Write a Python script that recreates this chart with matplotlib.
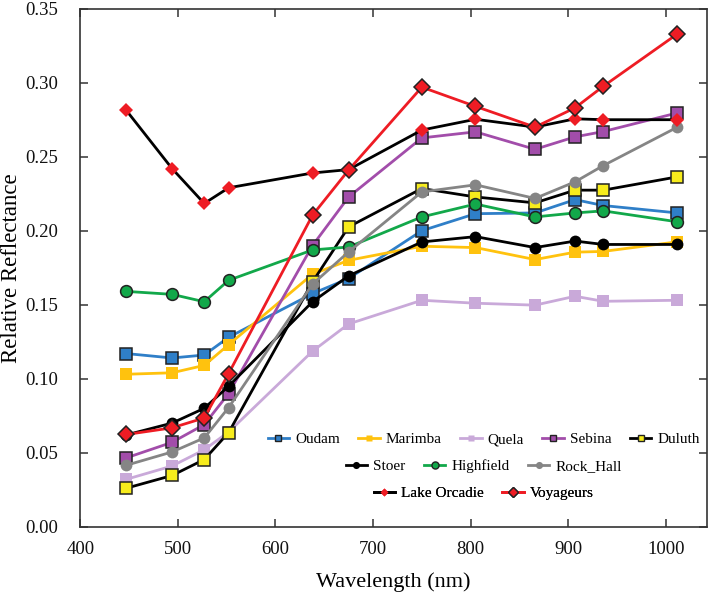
import matplotlib
matplotlib.use("Agg")
import matplotlib.pyplot as plt
from matplotlib.lines import Line2D

plt.rcParams['font.family'] = ['Liberation Serif', 'DejaVu Serif']

wavelength = [447, 494, 527, 552, 638, 675, 750, 805, 866, 907, 936, 1012]

oudam      = [0.117, 0.114, 0.116, 0.128, 0.1575, 0.1677, 0.200, 0.2115, 0.212, 0.221, 0.217, 0.212]
marimba    = [0.103, 0.104, 0.109, 0.123, 0.1706, 0.180, 0.1895, 0.1886, 0.1805, 0.1855, 0.186, 0.1925]
quela      = [0.032, 0.041, 0.052, 0.064, 0.1186, 0.137, 0.153, 0.151, 0.1497, 0.1557, 0.1523, 0.153]
sebina     = [0.0465, 0.057, 0.069, 0.090, 0.190, 0.2228, 0.2627, 0.2668, 0.255, 0.2634, 0.267, 0.2796]
duluth     = [0.026, 0.0346, 0.0454, 0.0636, 0.1654, 0.2026, 0.2285, 0.2228, 0.2188, 0.2274, 0.2274, 0.2364]
stoer      = [0.062, 0.070, 0.080, 0.095, 0.152, 0.1695, 0.1924, 0.196, 0.1886, 0.193, 0.1907, 0.1907]
highfield  = [0.159, 0.157, 0.152, 0.1665, 0.187, 0.189, 0.2093, 0.218, 0.2093, 0.212, 0.2134, 0.206]
rock_hall  = [0.0415, 0.0505, 0.060, 0.0805, 0.1639, 0.1857, 0.2262, 0.231, 0.2218, 0.233, 0.244, 0.270]
lake_orcadie = [0.2814, 0.242, 0.2184, 0.229, 0.239, 0.2413, 0.268, 0.2753, 0.270, 0.2756, 0.275, 0.275]
voyageurs  = [0.0623, 0.0668, 0.0735, 0.1035, 0.2105, 0.241, 0.297, 0.284, 0.270, 0.283, 0.2976, 0.333]

names = ["Oudam", "Marimba", "Quela", "Sebina", "Duluth",
         "Stoer", "Highfield", "Rock_Hall", "Lake Orcadie", "Voyageurs"]
series = [oudam, marimba, quela, sebina, duluth, stoer, highfield, rock_hall,
          lake_orcadie, voyageurs]

# style: line color, marker, face color, edge color, marker size
styles = {
    "Oudam":        ("#2F7FC8", "s", "#2F7FC8", "#222222", 8),
    "Marimba":      ("#FFC20E", "s", "#FFC20E", "none", 8),
    "Quela":        ("#C9A9D9", "s", "#C9A9D9", "none", 8),
    "Sebina":       ("#A24DAA", "s", "#A24DAA", "#222222", 8),
    "Duluth":       ("#000000", "s", "#F7EC1C", "#222222", 8),
    "Stoer":        ("#000000", "o", "#000000", "none", 8.5),
    "Highfield":    ("#12A84A", "o", "#12A84A", "#222222", 8.5),
    "Rock_Hall":    ("#858585", "o", "#858585", "none", 8.5),
    "Lake Orcadie": ("#000000", "D", "#EE1C24", "none", 7),
    "Voyageurs":    ("#EE1C24", "D", "#EE1C24", "#222222", 7.8),
}

fig = plt.figure(figsize=(7.09, 5.92), dpi=100)
ax = fig.add_axes([0.1133, 0.1103, 0.8835, 0.875])

for name, vals in zip(names, series):
    lc, mk, fc, ec, ms = styles[name]
    ax.plot(wavelength, vals, color=lc, lw=2.0, marker=mk, markersize=ms,
            markerfacecolor=fc, markeredgecolor=ec, markeredgewidth=1.1,
            label=name)

ax.set_xlim(400, 1042)
ax.set_ylim(0, 0.35)
ax.set_xticks([400, 500, 600, 700, 800, 900, 1000])
yt = [0.00, 0.05, 0.10, 0.15, 0.20, 0.25, 0.30, 0.35]
ax.set_yticks(yt)
ax.set_yticklabels([f"{v:.2f}" for v in yt])
ax.tick_params(axis='x', direction='in', length=6, width=1.1, top=True,
               labelsize=13.5, colors='#333333', labelcolor='#111111', pad=10.5)
ax.tick_params(axis='y', direction='in', length=6, width=1.1, right=True,
               labelsize=13.5, colors='#333333', labelcolor='#111111', pad=16)
for sp in ax.spines.values():
    sp.set_linewidth(1.2)
    sp.set_color('#333333')

ax.set_xlabel("Wavelength (nm)", fontsize=16, labelpad=10)
ax.set_ylabel("Relative Reflectance", fontsize=16.5)
ax.yaxis.set_label_coords(-0.093, 0.5)

def handle(name):
    lc, mk, fc, ec, ms = styles[name]
    return Line2D([], [], color=lc, lw=2.0, marker=mk, markersize=ms * 0.6,
                  markerfacecolor=fc, markeredgecolor=ec, markeredgewidth=1.0)

rows = [names[0:5], names[5:8], names[8:10]]
ypos = [0.169, 0.117, 0.065]
for row, y in zip(rows, ypos):
    leg = ax.legend([handle(n) for n in row], row, loc='center',
                    bbox_to_anchor=(0.644, y), ncol=len(row), frameon=False,
                    fontsize=11, handlelength=1.4, handletextpad=0.4,
                    columnspacing=1.2, borderpad=0, borderaxespad=0)
    ax.add_artist(leg)

fig.savefig("out.png", dpi=100)
